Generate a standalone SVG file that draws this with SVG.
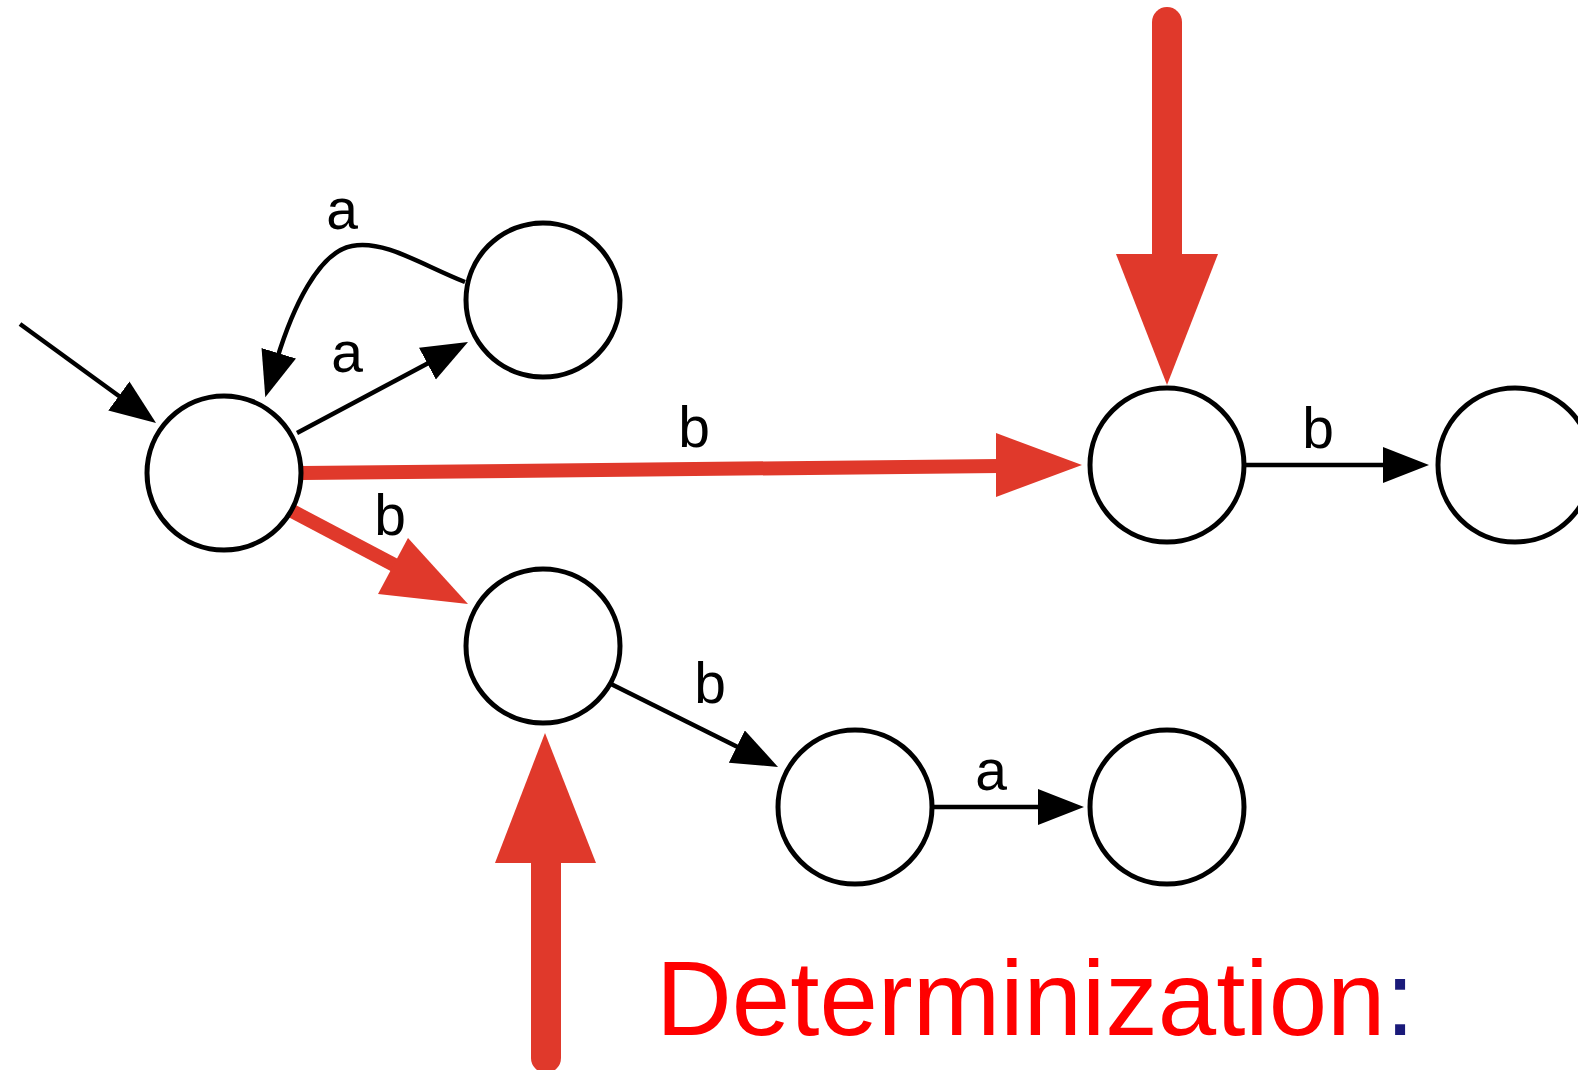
<svg xmlns="http://www.w3.org/2000/svg" width="1578" height="1070" viewBox="0 0 1578 1070">
<style>
.node{fill:#fff;stroke:#000;stroke-width:5}
.edge{fill:none;stroke:#000;stroke-width:4.5}
.red{fill:none;stroke:#e0392b;stroke-width:14}
.big{fill:none;stroke:#e0392b;stroke-width:30;stroke-linecap:round}
.head{fill:#e0392b}
.lbl{font-family:"Liberation Sans",Arial,sans-serif;font-size:57px;fill:#000;text-anchor:middle}
.title{font-family:"Liberation Sans",Arial,sans-serif;font-size:105px;fill:#ff0000}
</style>
<defs>
<marker id="ah" markerUnits="userSpaceOnUse" markerWidth="48" markerHeight="40" refX="6" refY="18" orient="auto" viewBox="0 0 48 40">
<path d="M0,0 L46,18 L0,36 Z" fill="#000"/>
</marker>
</defs>
<rect width="1578" height="1070" fill="#fff"/>
<g id="connectors">
<path class="edge" d="M20,324 L123.7,399.5" marker-end="url(#ah)"/>
<path class="edge" d="M297,433 L432.7,360.8" marker-end="url(#ah)"/>
<path class="edge" d="M465,282 C420,264 385,240 352,246 C318,252 292,310 277,359" marker-end="url(#ah)"/>
<path class="edge" d="M611,684 L742.2,749.2" marker-end="url(#ah)"/>
<path class="edge" d="M934,807 L1044,807" marker-end="url(#ah)"/>
<path class="edge" d="M1245,465 L1389,465" marker-end="url(#ah)"/>
<path class="red" d="M302,473 L1000,466"/>
<polygon class="head" points="1082,465 996,433 996,497"/>
<path class="red" d="M292,511 L400,568"/>
<polygon class="head" points="468,604 378,594 408,538"/>
<path class="big" d="M1167,22 L1167,260"/>
<polygon class="head" points="1167,385 1116,254 1218,254"/>
<path class="big" d="M546,1058 L546,855"/>
<polygon class="head" points="545,733 495,863 596,863"/>
</g>
<g id="labels">
<text class="lbl" x="342" y="229">a</text>
<text class="lbl" x="347" y="372">a</text>
<text class="lbl" x="694" y="447">b</text>
<text class="lbl" x="390" y="535">b</text>
<text class="lbl" x="710" y="703">b</text>
<text class="lbl" x="991" y="790">a</text>
<text class="lbl" x="1318" y="448">b</text>
</g>
<g id="nA"><circle class="node" cx="224" cy="473" r="77"/></g>
<g id="nB"><circle class="node" cx="543" cy="300" r="77"/></g>
<g id="nC"><circle class="node" cx="543" cy="646" r="77"/></g>
<g id="nD"><circle class="node" cx="1167" cy="465" r="77"/></g>
<g id="nE"><circle class="node" cx="1515" cy="465" r="77"/></g>
<g id="nF"><circle class="node" cx="855" cy="807" r="77"/></g>
<g id="nG"><circle class="node" cx="1167" cy="807" r="77"/></g>
<g id="title"><text class="title" x="656" y="1035">Determinization<tspan fill="#1a1a7a">:</tspan></text></g>
</svg>
